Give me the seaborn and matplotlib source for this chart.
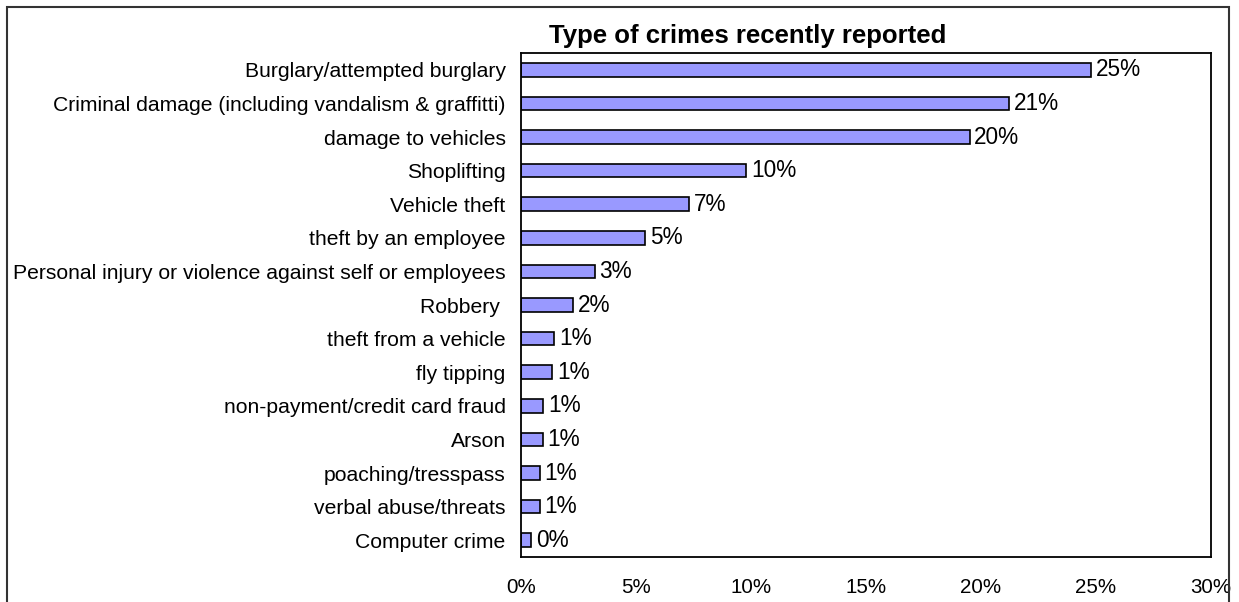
import matplotlib
matplotlib.use("Agg")
import matplotlib.pyplot as plt
from matplotlib.patches import Rectangle
import numpy as np
import pandas as pd
import seaborn as sns

# Crime types, ordered as listed (largest first)
crimes = [
    "Burglary/attempted burglary",
    "Criminal damage (including vandalism & graffitti)",
    "damage to vehicles",
    "Shoplifting",
    "Vehicle theft",
    "theft by an employee",
    "Personal injury or violence against self or employees",
    "Robbery ",
    "theft from a vehicle",
    "fly tipping",
    "non-payment/credit card fraud",
    "Arson",
    "poaching/tresspass",
    "verbal abuse/threats",
    "Computer crime",
]
# Share of respondents reporting each crime (%)
shares = [24.8, 21.2, 19.5, 9.8, 7.3, 5.4, 3.2, 2.25, 1.45, 1.35, 0.96, 0.95, 0.82, 0.82, 0.45]
x_ticks = [0, 5, 10, 15, 20, 25, 30]
x_tick_labels = ["0%", "5%", "10%", "15%", "20%", "25%", "30%"]
title = "Type of crimes recently reported"

sns.set_style("white")
plt.rcParams["font.family"] = ["Liberation Sans", "DejaVu Sans"]
plt.rcParams["text.color"] = "black"
plt.rcParams["xtick.color"] = "black"
plt.rcParams["ytick.color"] = "black"
plt.rcParams["xtick.labelcolor"] = "black"
plt.rcParams["ytick.labelcolor"] = "black"

df = pd.DataFrame({"crime": crimes, "share": shares})

W, H = 1239, 602
fig = plt.figure(figsize=(W / 100, H / 100), dpi=100)
ax = fig.add_axes([521 / W, 1 - 557 / H, (1211 - 521) / W, (557 - 53) / H])

sns.barplot(data=df, y="crime", x="share", orient="h", order=crimes,
            color="#9999FF", saturation=1, width=0.4,
            edgecolor="black", linewidth=1.2, ax=ax)

ax.set_xlim(0, 30)
ax.set_ylim(len(crimes) - 0.5, -0.5)
ax.set_xticks(x_ticks)
ax.set_xticklabels(x_tick_labels, fontsize=14.8)
ax.tick_params(axis="x", length=0, pad=15, labelcolor="black")
ax.set_xlabel("")
ax.set_ylabel("")

# Category labels without marks; short marks on the boundaries between rows
ax.tick_params(axis="y", which="major", length=0, labelsize=15.2, pad=11, labelcolor="black")
ax.set_yticks(np.arange(-0.5, len(crimes), 1.0), minor=True)
ax.tick_params(axis="y", which="minor", length=6, width=1, color="#555555", direction="out")

for side in ["left", "right", "top", "bottom"]:
    ax.spines[side].set_visible(True)
    ax.spines[side].set_color("black")
    ax.spines[side].set_linewidth(1.3)

labels = [f"{v:.0f}%" for v in shares]
ax.bar_label(ax.containers[0], labels=labels, padding=3.5, fontsize=16.3, color="black")

fig.text(748 / W, 1 - 43 / H, title, ha="center", va="baseline",
         fontsize=18.5, fontweight="bold", color="black")

# Outer frame around the chart area
fig.add_artist(Rectangle((7 / W, -0.05), (1229 - 7) / W, 1.05 - 7 / H,
                         transform=fig.transFigure, fill=False,
                         edgecolor="#333333", linewidth=1.5, clip_on=False))

fig.savefig("out.png", dpi=100)
